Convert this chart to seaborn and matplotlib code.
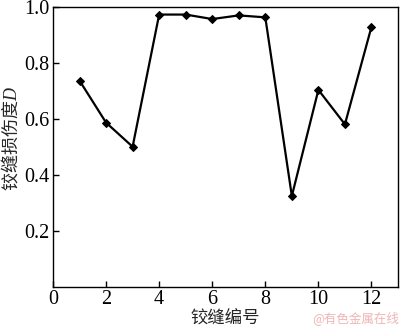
import matplotlib
matplotlib.use("Agg")
import matplotlib.pyplot as plt
import seaborn as sns
import pandas as pd

joint_ids = [1, 2, 3, 4, 5, 6, 7, 8, 9, 10, 11, 12]
damage = [0.737, 0.587, 0.501, 0.973, 0.973, 0.957, 0.970, 0.963, 0.325, 0.704, 0.581, 0.929]
x_ticks = [0, 2, 4, 6, 8, 10, 12]
y_ticks = [0.2, 0.4, 0.6, 0.8, 1.0]

sns.set_theme(style="ticks")
plt.rcParams['font.family'] = ['Liberation Serif', 'Noto Sans CJK SC']
plt.rcParams['mathtext.fontset'] = 'custom'
plt.rcParams['mathtext.it'] = 'Liberation Serif:italic'
plt.rcParams['mathtext.rm'] = 'Liberation Serif'

df = pd.DataFrame({"id": joint_ids, "D": damage})

W, H = 400, 327
fig = plt.figure(figsize=(W / 100, H / 100), dpi=100)
ax = fig.add_axes([53 / W, 1 - 287 / H, 345 / W, 280 / H])
sns.lineplot(data=df, x="id", y="D", ax=ax, color="black", linewidth=1.6,
             marker="D", markersize=4, markeredgecolor="black")
ax.set_xlim(0, 13)
ax.set_ylim(0, 1.0)
ax.set_xticks(x_ticks)
ax.set_yticks(y_ticks)
ax.set_xticklabels([str(v) for v in x_ticks])
ax.set_yticklabels([f"{v:.1f}" for v in y_ticks])
ax.tick_params(direction="in", length=4, width=1, labelsize=14.5, colors="black", pad=2.5)
for s in ax.spines.values():
    s.set_linewidth(1.0)
    s.set_color("black")
ax.set_xlabel("铰缝编号", fontsize=12.5, family=['Noto Sans CJK SC'])
ax.set_ylabel("铰缝损伤度$D$", fontsize=13, family=['Noto Sans CJK SC'])
ax.xaxis.set_label_coords(0.5, (287 - 310) / 280)
ax.yaxis.set_label_coords((21 - 53) / 345, (287 - 138) / 280)
fig.text(399 / W, 1 - 325 / H, "@有色金属在线", fontsize=9, color="#f0b4b4",
         ha="right", va="bottom", family=['Noto Sans CJK SC'])
fig.savefig("out.png", dpi=100)
